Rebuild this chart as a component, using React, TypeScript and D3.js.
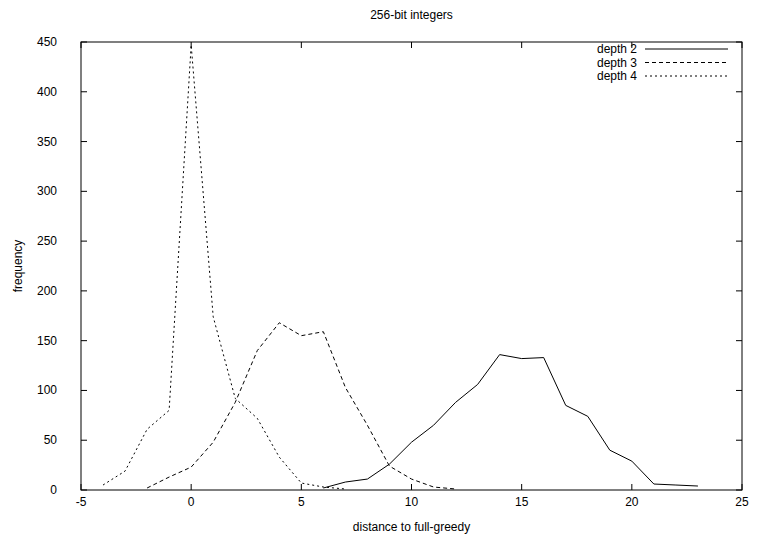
import { useEffect, useRef } from "react";
import * as d3 from "d3";

// distance to full-greedy (x) and frequency (y) per depth
const depth2X = [6, 7, 8, 9, 10, 11, 12, 13, 14, 15, 16, 17, 18, 19, 20, 21, 22, 23];
const depth2Y = [2, 8, 11, 26, 48, 65, 88, 106, 136, 132, 133, 85, 74, 40, 29, 6, 5, 4];

const depth3X = [-2, -1, 0, 1, 2, 3, 4, 5, 6, 7, 8, 9, 10, 11, 12];
const depth3Y = [2, 13, 23, 48, 88, 140, 168, 155, 159, 103, 65, 24, 11, 3, 1];

const depth4X = [-4, -3, -2, -1, 0, 1, 2, 3, 4, 5, 6, 7];
const depth4Y = [5, 19, 61, 80, 447, 174, 92, 72, 33, 7, 3, 1];

const seriesNames = ["depth 2", "depth 3", "depth 4"];
const xTicks = [-5, 0, 5, 10, 15, 20, 25];
const yTicks = [0, 50, 100, 150, 200, 250, 300, 350, 400, 450];

const App = () => {
  const svgRef = useRef<SVGSVGElement>(null);

  useEffect(() => {
    const svg = d3.select(svgRef.current);
    svg.selectAll("*").remove();

    const width = 757;
    const height = 536;
    const margin = { top: 42, right: 15, bottom: 46, left: 81 };
    const font = "'Liberation Sans', Arial, sans-serif";

    const x = d3.scaleLinear().domain([-5, 25]).range([margin.left, width - margin.right]);
    const y = d3.scaleLinear().domain([0, 450]).range([height - margin.bottom, margin.top]);

    svg.append("rect").attr("width", width).attr("height", height).attr("fill", "#fff");

    const g = svg.append("g");
    const tick = 6;

    // ticks on all four sides (mirrored, pointing inward)
    xTicks.forEach((t) => {
      g.append("line")
        .attr("x1", x(t)).attr("x2", x(t))
        .attr("y1", y(0)).attr("y2", y(0) - tick)
        .attr("stroke", "#000");
      g.append("line")
        .attr("x1", x(t)).attr("x2", x(t))
        .attr("y1", y(450)).attr("y2", y(450) + tick)
        .attr("stroke", "#000");
      g.append("text")
        .attr("x", x(t))
        .attr("y", y(0) + 16)
        .attr("text-anchor", "middle")
        .attr("font-family", font)
        .attr("font-size", "12px")
        .text(t);
    });

    yTicks.forEach((t) => {
      g.append("line")
        .attr("x1", x(-5)).attr("x2", x(-5) + tick)
        .attr("y1", y(t)).attr("y2", y(t))
        .attr("stroke", "#000");
      g.append("line")
        .attr("x1", x(25)).attr("x2", x(25) - tick)
        .attr("y1", y(t)).attr("y2", y(t))
        .attr("stroke", "#000");
      g.append("text")
        .attr("x", x(-5) - 24)
        .attr("y", y(t) + 4)
        .attr("text-anchor", "end")
        .attr("font-family", font)
        .attr("font-size", "12px")
        .text(t);
    });

    // frame
    g.append("rect")
      .attr("x", x(-5)).attr("y", y(450))
      .attr("width", x(25) - x(-5)).attr("height", y(0) - y(450))
      .attr("fill", "none").attr("stroke", "#000");

    // title and axis labels
    g.append("text")
      .attr("x", (x(-5) + x(25)) / 2).attr("y", 19)
      .attr("text-anchor", "middle")
      .attr("font-family", font).attr("font-size", "12px")
      .text("256-bit integers");

    g.append("text")
      .attr("x", (x(-5) + x(25)) / 2).attr("y", 531)
      .attr("text-anchor", "middle")
      .attr("font-family", font).attr("font-size", "12px")
      .text("distance to full-greedy");

    g.append("text")
      .attr("transform", `translate(22, ${(y(0) + y(450)) / 2}) rotate(-90)`)
      .attr("text-anchor", "middle")
      .attr("font-family", font).attr("font-size", "12px")
      .text("frequency");

    const series = [
      { xs: depth2X, ys: depth2Y, dash: null },
      { xs: depth3X, ys: depth3Y, dash: "4,3" },
      { xs: depth4X, ys: depth4Y, dash: "2,3" },
    ];

    const line = d3.line<[number, number]>()
      .x((d) => x(d[0]))
      .y((d) => y(d[1]));

    series.forEach((s, i) => {
      const pts = s.xs.map((v, j) => [v, s.ys[j]] as [number, number]);
      g.append("path")
        .attr("d", line(pts))
        .attr("fill", "none")
        .attr("stroke", "#000")
        .attr("stroke-width", 1)
        .attr("stroke-dasharray", s.dash);

      // legend
      const ly = 49 + i * 13.5;
      g.append("text")
        .attr("x", 637).attr("y", ly + 4)
        .attr("text-anchor", "end")
        .attr("font-family", font).attr("font-size", "12px")
        .text(seriesNames[i]);
      g.append("line")
        .attr("x1", 645).attr("x2", 728)
        .attr("y1", ly).attr("y2", ly)
        .attr("stroke", "#000")
        .attr("stroke-dasharray", s.dash);
    });
  }, []);

  return (
    <svg
      ref={svgRef}
      width={757}
      height={536}
      style={{ position: "absolute", left: 0, top: 0 }}
    ></svg>
  );
};

export default App;
